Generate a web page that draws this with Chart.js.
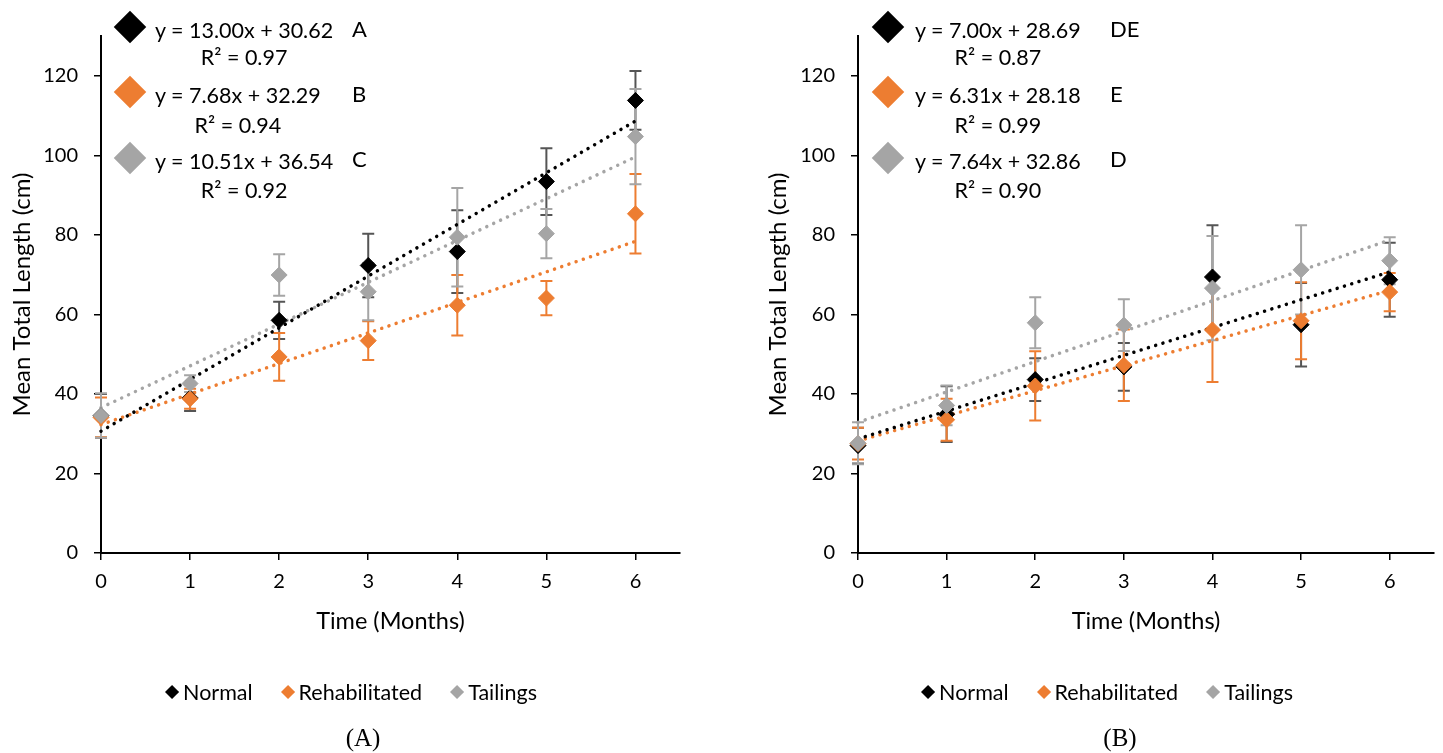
<!DOCTYPE html>
<html>
<head>
<meta charset="utf-8">
<script src="https://cdn.jsdelivr.net/npm/chart.js@4.4.1/dist/chart.umd.min.js"></script>
<style>
  html, body { margin:0; padding:0; background:#fff; }
  #wrap { position:relative; width:1443px; height:753px; overflow:hidden; font-family:Lato, "Open Sans", sans-serif; color:#000; }
  canvas { position:absolute; top:0; }
  .blk { position:absolute; text-align:center; white-space:nowrap; font-size:21.5px; }
  .blk div { height:0; position:relative; }
  .blk span { position:relative; display:inline-block; transform:translateY(-50%); line-height:1; }
  .let { position:absolute; transform:translate(0,-50%); white-space:nowrap; font-size:22px; line-height:1; }
  .bigd { position:absolute; width:23px; height:23px; transform:translate(-50%,-50%) rotate(45deg); }
  .legend { position:absolute; top:692px; transform:translate(-50%,-50%); display:flex; align-items:center; white-space:nowrap; font-size:21.5px; }
  .legend .it { display:flex; align-items:center; margin:0 15px; }
  .legend .d { width:10px; height:10px; transform:rotate(45deg); margin-right:6px; }
  .cap { position:absolute; top:738px; transform:translate(-50%,-50%); font-family:"Liberation Serif", "DejaVu Serif", serif; font-size:25px; }
</style>
</head>
<body>
<div id="wrap">
  <canvas id="cA" width="702" height="753" style="left:0px"></canvas>
  <canvas id="cB" width="687" height="753" style="left:756px"></canvas>
</div>
<script>
// ---------- data ----------
const months = [0, 1, 2, 3, 4, 5, 6];
const seriesNames = ['Normal', 'Rehabilitated', 'Tailings'];
const yTicks = [0, 20, 40, 60, 80, 100, 120];
const xTicks = [0, 1, 2, 3, 4, 5, 6];

// Panel A
const normalA = [34.5, 39.0, 58.5, 72.3, 75.8, 93.4, 113.8];
const normalErrA = [5.5, 3.3, 4.7, 8.0, 10.4, 8.4, 7.4];
const rehabA = [34.1, 38.8, 49.3, 53.4, 62.3, 64.1, 85.3];
const rehabErrA = [5.0, 2.5, 6.0, 4.9, 7.6, 4.3, 10.0];
const tailA = [34.6, 42.6, 69.9, 65.7, 79.4, 80.3, 104.7];
const tailErrA = [5.6, 2.1, 5.2, 7.2, 12.4, 6.2, 12.0];
const trendX = [0, 6];
const normalTrendA = [30.62, 108.62];
const rehabTrendA = [32.29, 78.37];
const tailTrendA = [36.54, 99.60];
const eqA = ['y = 13.00x + 30.62', 'y = 7.68x + 32.29', 'y = 10.51x + 36.54'];
const r2A = ['R² = 0.97', 'R² = 0.94', 'R² = 0.92'];
const letA = ['A', 'B', 'C'];

// Panel B
const normalB = [27.0, 34.9, 43.6, 46.8, 69.4, 57.4, 68.7];
const normalErrB = [4.5, 7.0, 5.4, 6.0, 13.0, 10.5, 9.3];
const rehabB = [27.5, 33.5, 42.0, 47.2, 56.1, 58.4, 65.6];
const rehabErrB = [4.0, 5.3, 8.7, 9.0, 13.1, 9.7, 4.8];
const tailB = [27.6, 37.1, 57.9, 57.3, 66.6, 71.2, 73.5];
const tailErrB = [5.3, 5.0, 6.4, 6.5, 13.1, 11.2, 5.9];
const normalTrendB = [28.69, 70.69];
const rehabTrendB = [28.18, 66.04];
const tailTrendB = [32.86, 78.70];
const eqB = ['y = 7.00x + 28.69', 'y = 6.31x + 28.18', 'y = 7.64x + 32.86'];
const r2B = ['R² = 0.87', 'R² = 0.99', 'R² = 0.90'];
const letB = ['DE', 'E', 'D'];

// ---------- styles ----------
const colors = ['#000000', '#ED7D31', '#A5A5A5'];
const errColors = ['#555555', '#ED7D31', '#A5A5A5'];
const FONT = 'Lato, "Open Sans", sans-serif';

const errorBarPlugin = {
  id: 'errbars',
  beforeDatasetsDraw(chart) {
    const ctx = chart.ctx, xs = chart.scales.x, ys = chart.scales.y;
    chart.data.datasets.forEach((ds) => {
      if (!ds.errors) return;
      ctx.save();
      ctx.strokeStyle = ds.errorColor;
      ctx.lineWidth = 2;
      ds.data.forEach((p, j) => {
        const e = ds.errors[j];
        const px = xs.getPixelForValue(p.x);
        const t = ys.getPixelForValue(p.y + e);
        const b = ys.getPixelForValue(p.y - e);
        ctx.beginPath();
        ctx.moveTo(px, t); ctx.lineTo(px, b);
        ctx.moveTo(px - 6, t); ctx.lineTo(px + 6, t);
        ctx.moveTo(px - 6, b); ctx.lineTo(px + 6, b);
        ctx.stroke();
      });
      ctx.restore();
    });
  }
};

function pts(xsArr, ysArr) { return xsArr.map((x, i) => ({ x: x, y: ysArr[i] })); }

function makeChart(id, vals, errs, trends, yWidth, padRight) {
  const datasets = [];
  for (let s = 0; s < 3; s++) {
    datasets.push({
      label: seriesNames[s] + ' trend',
      data: pts(trendX, trends[s]),
      showLine: true,
      borderColor: colors[s],
      borderWidth: 3.5,
      borderDash: [0.01, 7.6],
      borderCapStyle: 'round',
      pointRadius: 0,
      fill: false,
      clip: false,
      order: 10 + s
    });
  }
  const orders = [2, 1, 0];
  for (let s = 0; s < 3; s++) {
    datasets.push({
      label: seriesNames[s],
      data: pts(months, vals[s]),
      errors: errs[s],
      errorColor: errColors[s],
      showLine: false,
      pointStyle: 'rectRot',
      pointRadius: 8,
      pointBackgroundColor: colors[s],
      pointBorderColor: colors[s],
      pointBorderWidth: 1,
      clip: false,
      order: orders[s]
    });
  }
  return new Chart(document.getElementById(id), {
    type: 'scatter',
    data: { datasets: datasets },
    plugins: [errorBarPlugin],
    options: {
      responsive: false,
      animation: false,
      events: [],
      devicePixelRatio: 1,
      layout: { padding: { left: 4, right: padRight, top: 36, bottom: 113 } },
      plugins: { legend: { display: false }, tooltip: { enabled: false } },
      scales: {
        x: {
          type: 'linear', min: 0, max: 6.5,
          afterFit(sc) { sc.height = 87; },
          afterBuildTicks(sc) { sc.ticks = xTicks.map(v => ({ value: v })); },
          ticks: { stepSize: 1, padding: 10, color: '#000', font: { family: FONT, size: 20 } },
          grid: { drawOnChartArea: false, drawTicks: true, tickLength: 7, color: '#000', lineWidth: 1.5 },
          border: { display: true, color: '#000', width: 2 },
          title: { display: true, text: 'Time (Months)', color: '#000', font: { family: FONT, size: 23.5 }, padding: { top: 4, bottom: 4 } }
        },
        y: {
          type: 'linear', min: 0, max: 130,
          afterFit(sc) { sc.width = yWidth; },
          afterBuildTicks(sc) { sc.ticks = yTicks.map(v => ({ value: v })); },
          ticks: { stepSize: 20, padding: 16, color: '#000', font: { family: FONT, size: 20 } },
          grid: { drawOnChartArea: false, drawTicks: true, tickLength: 7, color: '#000', lineWidth: 1.5 },
          border: { display: true, color: '#000', width: 2 },
          title: { display: true, text: 'Mean Total Length (cm)', color: '#000', font: { family: FONT, size: 24 }, padding: { top: 4, bottom: 4 } }
        }
      }
    }
  });
}

makeChart('cA', [normalA, rehabA, tailA], [normalErrA, rehabErrA, tailErrA], [normalTrendA, rehabTrendA, tailTrendA], 97, 22);
makeChart('cB', [normalB, rehabB, tailB], [normalErrB, rehabErrB, tailErrB], [normalTrendB, rehabTrendB, tailTrendB], 98, 6);

// ---------- overlays (equations, legends, captions) ----------
const wrap = document.getElementById('wrap');
function add(cls, text, css) {
  const d = document.createElement('div');
  d.className = cls;
  if (text !== null) d.textContent = text;
  Object.assign(d.style, css);
  wrap.appendChild(d);
  return d;
}
const eqY = [28, 93, 159], r2Y = [55, 123, 188], letY = [29, 94, 159];
function eqBlock(eqs, r2s, lets, diamondX, eqLeft, letX) {
  for (let s = 0; s < 3; s++) {
    add('bigd', null, { left: diamondX + 'px', top: (eqY[s] - 1) + 'px', background: colors[s] });
    const b = add('blk', null, { left: eqLeft + 'px', top: eqY[s] + 'px' });
    const l1 = document.createElement('div');
    const s1 = document.createElement('span'); s1.textContent = eqs[s]; l1.appendChild(s1);
    const l2 = document.createElement('div'); l2.style.top = (r2Y[s] - eqY[s]) + 'px';
    const s2 = document.createElement('span'); s2.textContent = r2s[s]; l2.appendChild(s2);
    b.appendChild(l1); b.appendChild(l2);
    add('let', lets[s], { left: letX + 'px', top: letY[s] + 'px' });
  }
}
eqBlock(eqA, r2A, letA, 130, 155, 352);
eqBlock(eqB, r2B, letB, 888, 915, 1110);

function legend(cx) {
  const L = add('legend', null, { left: cx + 'px' });
  for (let s = 0; s < 3; s++) {
    const it = document.createElement('div'); it.className = 'it';
    const d = document.createElement('div'); d.className = 'd'; d.style.background = colors[s];
    const t = document.createElement('span'); t.textContent = seriesNames[s];
    it.appendChild(d); it.appendChild(t); L.appendChild(it);
  }
}
legend(352);
legend(1108);
add('cap', '(A)', { left: '363px' });
add('cap', '(B)', { left: '1120px' });
</script>
</body>
</html>
